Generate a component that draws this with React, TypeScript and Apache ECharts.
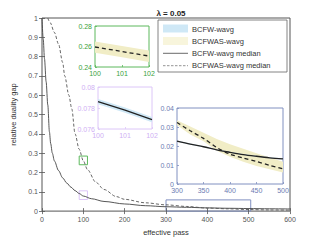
import React, { useEffect, useRef } from "react";
import * as echarts from "echarts";

// main curves
const bcfwX = [0, 3, 6, 10, 14, 18, 21, 25, 30, 40, 50, 60, 70, 80, 90, 100, 120, 150, 200, 250, 300, 350, 400, 450, 500, 550, 600];
const bcfwMedian = [1, 0.89, 0.79, 0.67, 0.55, 0.41, 0.35, 0.3, 0.26, 0.21, 0.172, 0.145, 0.124, 0.106, 0.091, 0.078, 0.064, 0.05, 0.037, 0.028, 0.0226, 0.0196, 0.0167, 0.0146, 0.0132, 0.012, 0.011];
const bcfwasX = [14, 20, 30, 40, 50, 55, 65, 72, 80, 90, 100, 110, 130, 150, 180, 200, 250, 300, 350, 400, 450, 500, 550, 600];
const bcfwasMedian = [1.0, 0.975, 0.925, 0.865, 0.77, 0.7, 0.6, 0.53, 0.4, 0.32, 0.26, 0.215, 0.15, 0.112, 0.075, 0.061, 0.043, 0.0324, 0.024, 0.0157, 0.0118, 0.008, 0.006, 0.005];

// inset 1 (green) : BCFWAS around pass 100-102
const g1X = [100, 101, 102];
const g1Median = [0.2595, 0.2551, 0.2507];
const g1Lower = [0.254, 0.2495, 0.245];
const g1Upper = [0.265, 0.2605, 0.256];

// inset 2 (purple) : BCFW around pass 100-102
const p2X = [100, 101, 102];
const p2Median = [0.0786, 0.0778, 0.0769];
const p2Lower = [0.07835, 0.07755, 0.07665];
const p2Upper = [0.07885, 0.07805, 0.07715];

// inset 3 (blue) : pass 300-500
const b3X = [300, 325, 350, 375, 400, 425, 450, 475, 500];
const b3Bcfw = [0.0226, 0.021, 0.0196, 0.018, 0.0167, 0.0155, 0.0146, 0.0138, 0.0132];
const b3BcfwLower = [0.0223, 0.0207, 0.0193, 0.0177, 0.0164, 0.0152, 0.0143, 0.0135, 0.0129];
const b3BcfwUpper = [0.0229, 0.0213, 0.0199, 0.0183, 0.017, 0.0158, 0.0149, 0.0141, 0.0135];
const b3Bcfwas = [0.0324, 0.028, 0.024, 0.0192, 0.0157, 0.0137, 0.0118, 0.0098, 0.008];
const b3BcfwasLower = [0.031, 0.026, 0.0225, 0.0175, 0.0144, 0.0117, 0.0095, 0.0077, 0.0061];
const b3BcfwasUpper = [0.0336, 0.0302, 0.027, 0.0237, 0.0209, 0.0185, 0.0162, 0.0139, 0.0117];

// zoom boxes on the main axes [x0, y0, x1, y1]
const greenBox = [90, 0.24, 110, 0.285];
const purpleBox = [90, 0.06, 110, 0.105];
const blueBox = [300, -0.01, 505, 0.058];

const legendNames = ["BCFW-wavg", "BCFWAS-wavg", "BCFW-wavg median", "BCFWAS-wavg median"];

const FONT = "Liberation Sans, Arial, sans-serif";
const BLUE_BAND = "#cfe8f6";
const YELLOW_BAND = "#f1edc6";
const GREEN = "#5cb85c";
const GREEN_T = "#3aa13a";
const PURPLE = "#dcc6f8";
const PURPLE_T = "#cfb0f4";
const SLATE = "#8090c0";
const SLATE_T = "#6b7bb2";

const pairs = (xs: number[], ys: number[]) => xs.map((x, i) => [x, ys[i]]);

function band(xs: number[], lo: number[], hi: number[], color: string, ax: number, z: number) {
  return {
    type: "custom", xAxisIndex: ax, yAxisIndex: ax, z, silent: true,
    data: xs.map((x, i) => [x, lo[i], hi[i]]),
    renderItem: (params: any, api: any) => {
      if (params.dataIndex !== 0) return null;
      const top = xs.map((x, i) => api.coord([x, hi[i]]));
      const bot = xs.map((x, i) => api.coord([x, lo[i]])).reverse();
      return {
        type: "polygon",
        shape: { points: top.concat(bot) },
        style: { fill: color, stroke: "none" },
        clipPath: {
          type: "rect",
          shape: { x: params.coordSys.x, y: params.coordSys.y, width: params.coordSys.width, height: params.coordSys.height },
        },
      };
    },
  };
}

function insetAxes(grid: number, xmin: number, xmax: number, xint: number, ymin: number, ymax: number, yint: number, col: string, tcol: string, yfmt?: (v: number) => string) {
  const common = {
    gridIndex: grid, type: "value", z: 11,
    axisLine: { show: false },
    axisTick: { show: true, inside: true, length: 2, lineStyle: { color: col, width: 0.8 } },
    splitLine: { show: false },
  };
  return {
    x: { ...common, min: xmin, max: xmax, interval: xint, axisLabel: { color: tcol, fontSize: 7, fontFamily: FONT, margin: 3 } },
    y: { ...common, min: ymin, max: ymax, interval: yint, axisLabel: { color: tcol, fontSize: 7, fontFamily: FONT, margin: 3, formatter: yfmt } },
  };
}

export default function App() {
  const ref = useRef<HTMLDivElement>(null);
  useEffect(() => {
    document.body.style.margin = "0";
    const chart = echarts.init(ref.current!, undefined, { renderer: "svg" });
    const axisCol = "#555";
    const labelStyle = { color: "#555", fontSize: 7, fontFamily: FONT };
    const i1 = insetAxes(1, 100, 102, 1, 0.24, 0.28, 0.02, GREEN, GREEN_T);
    const i2 = insetAxes(2, 100, 102, 1, 0.076, 0.08, 0.002, PURPLE, PURPLE_T, (v) => String(+v.toFixed(3)));
    const i3 = insetAxes(3, 300, 500, 50, 0, 0.04, 0.01, SLATE, SLATE_T, (v) => String(+v.toFixed(2)));
    const mkArea = (b: number[], color: string) => [
      { xAxis: b[0], yAxis: b[1], itemStyle: { color: "rgba(0,0,0,0)", borderColor: color, borderWidth: 1 } },
      { xAxis: b[2], yAxis: b[3] },
    ];
    const mainTick = { show: true, inside: true, length: 3, lineStyle: { color: axisCol, width: 0.8 } };
    const LZ = 100;
    chart.setOption({
      animation: false,
      backgroundColor: "#fff",
      title: {
        text: "{n|λ = }{b|0.05}",
        left: 166, top: 4, textAlign: "center",
        textStyle: { rich: { n: { fontSize: 8, fontFamily: FONT, color: "#222" }, b: { fontSize: 8, fontWeight: "bold", fontFamily: FONT, color: "#222" } } },
      },
      grid: [
        { left: 42, top: 18, width: 248, height: 196, show: true, borderColor: axisCol, borderWidth: 1, backgroundColor: "#fff", z: 1 },
        { left: 95, top: 26, width: 54, height: 41, show: true, borderColor: GREEN, borderWidth: 1, backgroundColor: "#fff", z: 10 },
        { left: 98, top: 87, width: 54, height: 42, show: true, borderColor: PURPLE, borderWidth: 1, backgroundColor: "#fff", z: 10 },
        { left: 177, top: 108, width: 106, height: 76, show: true, borderColor: SLATE, borderWidth: 1, backgroundColor: "#fff", z: 10 },
      ],
      xAxis: [
        {
          gridIndex: 0, type: "value", min: 0, max: 600, interval: 100, z: 3,
          axisLine: { show: false }, axisTick: mainTick, splitLine: { show: false },
          axisLabel: { ...labelStyle, margin: 5 },
          name: "effective pass", nameLocation: "middle", nameGap: 16,
          nameTextStyle: { color: "#333", fontSize: 7.5, fontFamily: FONT },
        },
        i1.x, i2.x, i3.x,
        {
          gridIndex: 0, type: "value", min: 0, max: 600, interval: 100, position: "top", z: 3,
          axisLine: { show: false }, axisTick: mainTick, splitLine: { show: false }, axisLabel: { show: false },
        },
      ],
      yAxis: [
        {
          gridIndex: 0, type: "value", min: 0, max: 1, interval: 0.1, z: 3,
          axisLine: { show: false }, axisTick: mainTick, splitLine: { show: false },
          axisLabel: { ...labelStyle, margin: 4, formatter: (v: number) => String(+v.toFixed(1)) },
          name: "relative duality gap", nameLocation: "middle", nameGap: 22, nameRotate: 90,
          nameTextStyle: { color: "#333", fontSize: 7.5, fontFamily: FONT },
        },
        i1.y, i2.y, i3.y,
        {
          gridIndex: 0, type: "value", min: 0, max: 1, interval: 0.1, position: "right", z: 3,
          axisLine: { show: false }, axisTick: mainTick, splitLine: { show: false }, axisLabel: { show: false },
        },
      ],
      series: [
        {
          type: "line", name: legendNames[2], xAxisIndex: 0, yAxisIndex: 0, data: pairs(bcfwX, bcfwMedian),
          symbol: "none", smooth: 0.3, smoothMonotone: "x", clip: false, z: 2,
          lineStyle: { color: "#444", width: 0.9 },
          markArea: {
            silent: true,
            data: [mkArea(greenBox, GREEN), mkArea(purpleBox, PURPLE), mkArea(blueBox, SLATE)],
          },
        },
        {
          type: "line", name: legendNames[3], xAxisIndex: 0, yAxisIndex: 0, data: pairs(bcfwasX, bcfwasMedian),
          symbol: "none", smooth: 0.3, smoothMonotone: "x", z: 2,
          lineStyle: { color: "#555", width: 0.9, type: [3, 2] },
        },
        // inset 1
        band(g1X, g1Lower, g1Upper, YELLOW_BAND, 1, 12),
        {
          type: "line", xAxisIndex: 1, yAxisIndex: 1, data: pairs(g1X, g1Median), symbol: "none", z: 13,
          lineStyle: { color: "#222", width: 1.3, type: [4, 3] },
        },
        // inset 2
        band(p2X, p2Lower, p2Upper, BLUE_BAND, 2, 12),
        {
          type: "line", xAxisIndex: 2, yAxisIndex: 2, data: pairs(p2X, p2Median), symbol: "none", z: 13,
          lineStyle: { color: "#222", width: 1.3 },
        },
        // inset 3
        band(b3X, b3BcfwasLower, b3BcfwasUpper, YELLOW_BAND, 3, 12),
        band(b3X, b3BcfwLower, b3BcfwUpper, BLUE_BAND, 3, 12),
        {
          type: "line", xAxisIndex: 3, yAxisIndex: 3, data: pairs(b3X, b3Bcfw), symbol: "none", smooth: 0.3, z: 13,
          lineStyle: { color: "#222", width: 1.3 },
        },
        {
          type: "line", xAxisIndex: 3, yAxisIndex: 3, data: pairs(b3X, b3Bcfwas), symbol: "none", smooth: 0.3, z: 13,
          lineStyle: { color: "#222", width: 1.3, type: [4, 3] },
        },
      ],
      graphic: [
        { type: "rect", z: LZ, shape: { x: 158, y: 20, width: 129, height: 52 }, style: { fill: "#fff", stroke: "#666", lineWidth: 0.8 } },
        { type: "rect", z: LZ + 1, shape: { x: 163, y: 24.5, width: 25, height: 8 }, style: { fill: BLUE_BAND } },
        { type: "rect", z: LZ + 1, shape: { x: 163, y: 37, width: 25, height: 8 }, style: { fill: "#f8f5dc" } },
        { type: "line", z: LZ + 1, shape: { x1: 163, y1: 53.3, x2: 188, y2: 53.3 }, style: { stroke: "#444", lineWidth: 0.8 } },
        { type: "line", z: LZ + 1, shape: { x1: 163, y1: 65.7, x2: 188, y2: 65.7 }, style: { stroke: "#777", lineWidth: 0.8, lineDash: [2.5, 1.5] } },
        ...legendNames.map((t, i) => ({
          type: "text", z: LZ + 1, x: 192, y: 29 + i * 12.2,
          style: { text: t, fill: "#333", fontSize: 7.5, fontFamily: FONT, verticalAlign: "middle" },
        })),
      ],
    });
    return () => chart.dispose();
  }, []);
  return <div ref={ref} style={{ width: 321, height: 241 }} />;
}
